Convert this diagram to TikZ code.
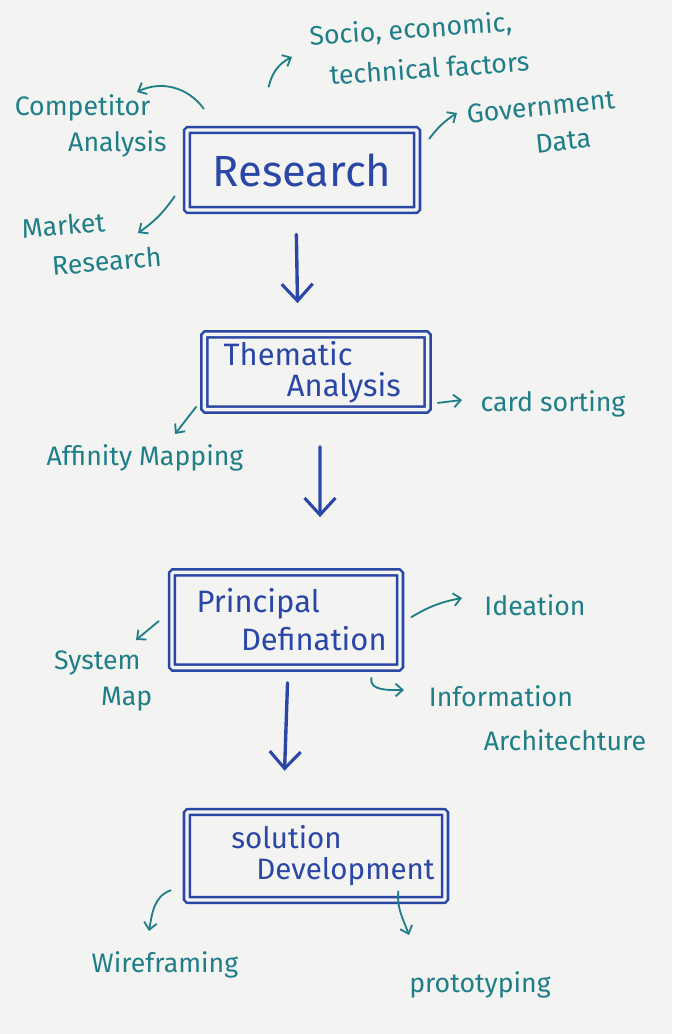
\documentclass[tikz,border=0pt]{standalone}
\usepackage{fontspec}
\setmainfont{Fira Sans}
\usepackage{tikz}
\usetikzlibrary{calc,arrows.meta}
\definecolor{paper}{HTML}{F3F3F1}
\definecolor{ink}{HTML}{2A47A6}
\definecolor{teal}{HTML}{1F7E88}
\tikzset{
  box/.style={draw=ink, line width=1.8pt, double=paper, double distance=2.4pt, rounded corners=1pt, text=ink, inner sep=0pt, align=center},
  flow/.style={draw=ink, line width=2.4pt, line cap=round, -{Straight Barb[length=12pt, width=22pt, line width=2.2pt]}},
  note/.style={draw=teal, line width=1.3pt, line cap=round, -{Straight Barb[length=5pt, width=9pt, line width=1.3pt]}},
  lab/.style={text=teal, font=\fontsize{19}{26}\selectfont, align=center, inner sep=0pt},
}

\begin{document}
\begin{tikzpicture}[x=0.025cm, y=-0.025cm]
  \fill[paper] (0,0) rectangle (672,1034);
  \useasboundingbox (0,0) rectangle (672,1034);
  % main stages
  \node[box, minimum width=5.75cm, minimum height=2cm, font=\fontsize{31}{30}\selectfont] (res) at (302,170) {Research};
  \node[box, minimum width=5.58cm, minimum height=1.88cm, font=\fontsize{22}{22}\selectfont] (them) at (316,372) {Thematic\hspace*{1.8em}\\\hspace*{1.8em}Analysis};
  \node[box, minimum width=5.7cm, minimum height=2.38cm, font=\fontsize{22}{27}\selectfont] (prin) at (286,620) {Principal\hspace*{1.8em}\\\hspace*{1.8em}Defination};
  \node[box, minimum width=6.45cm, minimum height=2.2cm, font=\fontsize{21}{22}\selectfont] (sol) at (316,856) {solution\hspace*{2em}\\\hspace*{2em}Development};
  \draw[flow, shorten <=0.58cm, shorten >=0.75cm] ([xshift=-0.15cm]res.south) -- ([xshift=-0.45cm]them.north);
  \draw[flow, shorten <=0.9cm, shorten >=1.35cm] ([xshift=0.1cm]them.south) -- ([xshift=0.85cm]prin.north);
  \draw[flow, shorten <=0.35cm, shorten >=1cm] ([xshift=0.05cm]prin.south) -- ([xshift=-0.82cm]sol.north);
  % research notes
  \node[lab, rotate=4, font=\fontsize{19}{29}\selectfont] (socio) at (420,48) {Socio, economic,\hspace*{0.6em}\\\hspace*{0.6em}technical factors};
  \node[lab] (comp) at (100,126) {Competitor\hspace*{1.3em}\\\hspace*{1.3em}Analysis};
  \node[lab, rotate=6] (gov) at (552,124) {Government\hspace*{0.7em}\\\hspace*{0.7em}Data};
  \node[lab, rotate=5, font=\fontsize{19}{28}\selectfont] (mkt) at (85,243) {Market\hspace*{1.5em}\\\hspace*{1.5em}Research};
  \coordinate (socioTip) at (292,57);
  \coordinate (compTip) at (137,92);
  \coordinate (govTip) at (457,113);
  \coordinate (mktTip) at (138,233);
  \draw[note] ([shift={(83,-42)}]res.north west) to[bend left=25] (socioTip);
  \draw[note] ([shift={(18,-20)}]res.north west) to[bend right=40] (compTip);
  \draw[note] ([shift={(11,10)}]res.north east) to[bend left=10] (govTip);
  \draw[note] ([shift={(-11,-15)}]res.south west) to[bend left=10] (mktTip);
  % thematic notes
  \node[lab] (card) at (553,404) {card sorting};
  \node[lab] (aff) at (145,458) {Affinity Mapping};
  \coordinate (cardTip) at (462,400);
  \coordinate (affTip) at (175,434);
  \draw[note] ([shift={(9,-8)}]them.south east) -- (cardTip);
  \draw[note] ([shift={(-7,-4)}]them.south west) -- (affTip);
  % principal notes
  \node[lab] (idea) at (535,605) {Ideation};
  \node[lab] (sys) at (112,681) {System\hspace*{1.1em}\\\hspace*{1.1em}Map};
  \node[lab, font=\fontsize{19}{31}\selectfont] (info) at (533,718) {Information\hspace*{2.4em}\\\hspace*{2.4em}Architechture};
  \coordinate (ideaTip) at (462,598);
  \coordinate (sysTip) at (136,640);
  \coordinate (infoTip) at (404,690);
  \draw[note] ([shift={(10,46)}]prin.north east) to[bend left=10] (ideaTip);
  \draw[note] ([shift={(-12,50)}]prin.north west) -- (sysTip);
  \draw[note] ([shift={(-30,9)}]prin.south east) to[out=-100, in=180] (infoTip);
  % solution notes
  \node[lab] (wire) at (165,965) {Wireframing};
  \node[lab] (proto) at (480,985) {prototyping};
  \coordinate (wireTip) at (149,931);
  \coordinate (protoTip) at (409,935);
  \draw[note] ([shift={(-15,-11)}]sol.south west) to[out=200, in=80] (wireTip);
  \draw[note] ([shift={(-48,-10)}]sol.south east) to[out=-95, in=110] (protoTip);
\end{tikzpicture}
\end{document}
